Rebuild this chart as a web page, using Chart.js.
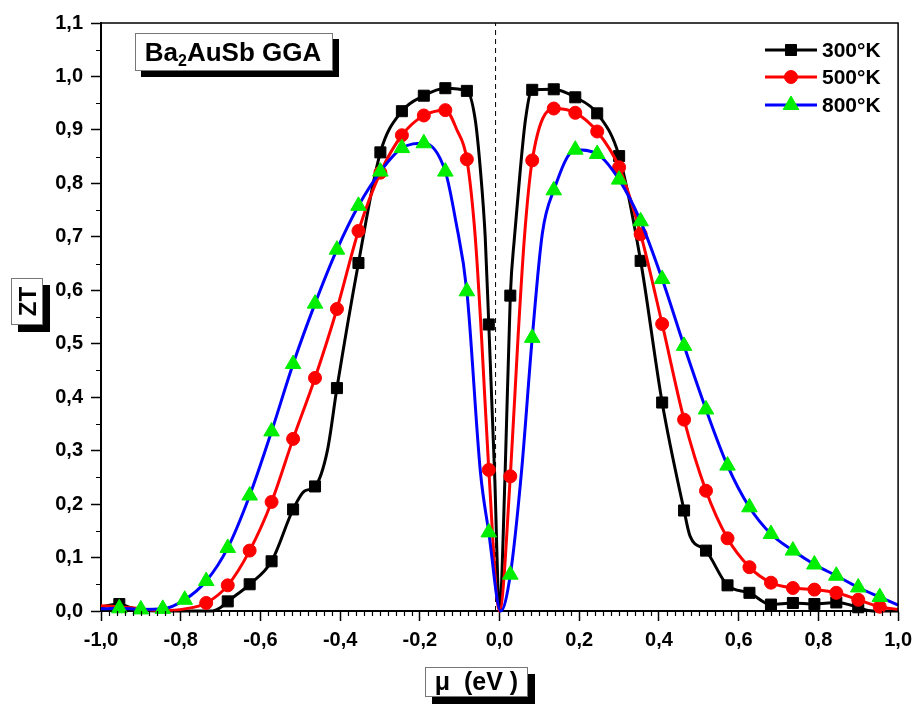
<!DOCTYPE html>
<html><head><meta charset="utf-8">
<script src="https://cdn.jsdelivr.net/npm/chart.js@4"></script>
<style>html,body{margin:0;padding:0;background:#fff}</style>
</head><body>
<canvas id="c" width="919" height="704"></canvas>
<script>
// ---- data ----
const seriesLabels = ['300°K', '500°K', '800°K'];
const muMark = [-0.954,-0.9,-0.845,-0.79,-0.736,-0.682,-0.627,-0.572,-0.518,-0.463,-0.408,-0.354,-0.299,-0.245,-0.19,-0.136,-0.082,-0.027,
                0.027,0.082,0.136,0.19,0.245,0.3,0.354,0.408,0.463,0.518,0.572,0.627,0.681,0.736,0.79,0.845,0.9,0.954];
const zt300Mark = [0.013,null,null,null,null,0.018,0.05,0.093,0.19,0.233,0.417,0.651,0.858,0.935,0.964,0.978,0.973,0.536,
                   0.59,0.975,0.976,0.961,0.931,0.851,0.655,0.39,0.188,0.113,0.048,0.034,0.012,0.015,0.013,0.016,0.007,null];
const zt500Mark = [null,null,null,null,0.015,0.048,0.113,0.204,0.322,0.436,0.565,0.711,0.82,0.89,0.927,0.937,0.845,0.264,
                   0.252,0.843,0.94,0.932,0.897,0.83,0.705,0.537,0.358,0.225,0.136,0.082,0.053,0.043,0.04,0.034,0.021,0.008];
const zt800Mark = [0.005,0.003,0.004,0.021,0.056,0.118,0.216,0.336,0.462,0.575,0.676,0.758,0.822,0.866,0.875,0.822,0.598,0.147,
                   0.068,0.511,0.787,0.863,0.855,0.807,0.729,0.621,0.496,0.377,0.272,0.194,0.144,0.113,0.087,0.066,0.044,0.026];
// curve points between the markers
const mu300Extra = [-1.0,-0.925,-0.9,-0.845,-0.79,-0.736,-0.72,-0.703,-0.49,-0.432,-0.061,-0.048,-0.036,-0.0125,0.0,0.014,0.0375,0.052,0.065,0.478,0.925,0.954,1.0];
const zt300Extra = [0.008,0.006,0.002,0.0,0.0,0.0,0.0,0.005,0.224,0.30,0.919,0.825,0.70,0.259,0.0,0.259,0.70,0.825,0.919,0.14,0.001,0.0,0.0];
const mu500Extra = [-1.0,-0.954,-0.9,-0.845,-0.79,-0.107,-0.061,-0.045,0.0,0.046,0.0625,1.0];
const zt500Extra = [0.01,0.008,0.004,0.001,0.004,0.9,0.70,0.51,0.0,0.507,0.70,0.003];
const mu800Extra = [-1.0,-0.11,-0.048,0.003,0.055,0.1075,1.0];
const zt800Extra = [0.004,0.73,0.26,0.0,0.26,0.707,0.011];
const fermiMu = -0.01;
const xTickValues = [-1.0,-0.8,-0.6,-0.4,-0.2,0.0,0.2,0.4,0.6,0.8,1.0];
const xTickLabels = ['-1,0','-0,8','-0,6','-0,4','-0,2','0,0','0,2','0,4','0,6','0,8','1,0'];
const yTickValues = [0,0.1,0.2,0.3,0.4,0.5,0.6,0.7,0.8,0.9,1.0,1.1];
const yTickLabels = ['0,0','0,1','0,2','0,3','0,4','0,5','0,6','0,7','0,8','0,9','1,0','1,1'];

function build(markY, exX, exY){
  const pts=[];
  muMark.forEach((x,i)=>{ if(markY[i]!==null) pts.push({x:x,y:markY[i],m:true}); });
  exX.forEach((x,i)=>pts.push({x:x,y:exY[i],m:false}));
  pts.sort((a,b)=>a.x-b.x);
  return pts;
}
const FONT = "'Liberation Sans', Arial, sans-serif";
const styles = [
  {color:'#000000', mcolor:'#000000', shape:'rect', r:7.8},
  {color:'#ff0000', mcolor:'#ff0000', shape:'circle', r:6.5},
  {color:'#0000ff', mcolor:'#00ee00', shape:'triangle', r:9}
];
const dataSets = [build(zt300Mark,mu300Extra,zt300Extra), build(zt500Mark,mu500Extra,zt500Extra), build(zt800Mark,mu800Extra,zt800Extra)];
const datasets = dataSets.map((d,i)=>({
  label: seriesLabels[i], data: d,
  borderColor: styles[i].color, borderWidth: 3,
  pointStyle: styles[i].shape,
  pointRadius: c => (c.raw && c.raw.m) ? styles[i].r : 0,
  pointHoverRadius: c => (c.raw && c.raw.m) ? styles[i].r : 0,
  pointBackgroundColor: styles[i].mcolor, pointBorderColor: styles[i].mcolor, pointBorderWidth: 1,
  cubicInterpolationMode: 'monotone', order: 3-i, clip: false, fill:false
}));
datasets.push({label:'fermi', data:[{x:fermiMu,y:0},{x:fermiMu,y:1.1}], borderColor:'#000', borderWidth:1,
  borderDash:[5,4], pointRadius:0, order:10, fill:false});

function drawMarker(ctx, s, x, y){
  ctx.save(); ctx.fillStyle=s.mcolor; ctx.strokeStyle=s.mcolor; ctx.lineWidth=1;
  if (Chart.helpers && Chart.helpers.drawPoint) {
    Chart.helpers.drawPoint(ctx, {pointStyle:s.shape, radius:s.r, rotation:0, borderWidth:1}, x, y);
  }
  ctx.restore();
}
function shadowBox(ctx,x,y,w,h,off){
  ctx.fillStyle='#000'; ctx.fillRect(x+off,y+off,w,h);
  ctx.fillStyle='#fff'; ctx.fillRect(x,y,w,h);
  ctx.strokeStyle='#777'; ctx.lineWidth=1; ctx.strokeRect(x+0.5,y+0.5,w-1,h-1);
}
const decor = {
  id:'decor',
  afterDraw(chart){
    const ctx=chart.ctx, a=chart.chartArea, xs=chart.scales.x, ys=chart.scales.y;
    ctx.save();
    // frame
    ctx.strokeStyle='#000'; ctx.lineWidth=1.5;
    ctx.beginPath(); ctx.moveTo(a.left,a.top); ctx.lineTo(a.right,a.top); ctx.lineTo(a.right,a.bottom); ctx.stroke();
    // minor ticks
    ctx.lineWidth=1.2;
    ctx.beginPath();
    for(let k=-50;k<=50;k++){ if(k%10===0) continue; const px=Math.round(xs.getPixelForValue(k*0.02))+0.5; ctx.moveTo(px,a.bottom); ctx.lineTo(px,a.bottom+5); }
    for(let k=1;k<22;k+=2){ const py=Math.round(ys.getPixelForValue(k*0.05))+0.5; ctx.moveTo(a.left-5,py); ctx.lineTo(a.left,py); }
    ctx.stroke();
    // legend
    ctx.textBaseline='middle'; ctx.textAlign='left';
    ctx.font="bold 21px "+FONT;
    const rows=[50,77,105];
    styles.forEach((s,i)=>{
      ctx.strokeStyle=s.color; ctx.lineWidth=3;
      ctx.beginPath(); ctx.moveTo(765,rows[i]); ctx.lineTo(817,rows[i]); ctx.stroke();
      drawMarker(ctx,s,791,rows[i]);
      ctx.fillStyle='#000'; ctx.fillText(seriesLabels[i],822,rows[i]+1);
    });
    // title box
    shadowBox(ctx,135,33,198,38,6);
    ctx.fillStyle='#000'; ctx.textBaseline='alphabetic';
    const f1="bold 26px "+FONT, f2="bold 16px "+FONT;
    ctx.font=f1; const wBa=ctx.measureText('Ba').width, wRest=ctx.measureText('AuSb GGA').width;
    ctx.font=f2; const w2=ctx.measureText('2').width;
    let tx=233-(wBa+w2+wRest)/2, base=61;
    ctx.font=f1; ctx.fillText('Ba',tx,base); tx+=wBa;
    ctx.font=f2; ctx.fillText('2',tx,base+5); tx+=w2;
    ctx.font=f1; ctx.fillText('AuSb GGA',tx,base);
    // ZT box
    shadowBox(ctx,11,278,32,47,7);
    ctx.save(); ctx.translate(28,301.5); ctx.rotate(-Math.PI/2);
    ctx.font="bold 24px "+FONT; ctx.textAlign='center'; ctx.textBaseline='middle'; ctx.fillStyle='#000';
    ctx.fillText('ZT',0,1); ctx.restore();
    // mu box
    shadowBox(ctx,425,667,103,30,7);
    ctx.font="bold 25px "+FONT; ctx.textAlign='center'; ctx.textBaseline='middle'; ctx.fillStyle='#000';
    ctx.fillText('\u03bc  (eV )',476.5,683);
    ctx.restore();
  }
};
const tickFont = {family: FONT, size: 20, weight: 'bold'};
new Chart(document.getElementById('c'), {
  type:'line',
  data:{datasets: datasets},
  options:{
    responsive:false, animation:false, devicePixelRatio:1,
    layout:{padding:{top:23,right:18,left:0,bottom:0}},
    plugins:{legend:{display:false}, tooltip:{enabled:false}},
    scales:{
      x:{type:'linear', min:-1, max:1,
        afterFit(s){ s.height=93; },
        afterBuildTicks(s){ s.ticks = xTickValues.map(v=>({value:v})); },
        ticks:{callback:(v,i)=>xTickLabels[i], color:'#000', font:tickFont, padding:7, maxRotation:0, autoSkip:false},
        grid:{drawOnChartArea:false, tickLength:10, tickColor:'#000', tickWidth:1.5},
        border:{color:'#000', width:2}},
      y:{type:'linear', min:0, max:1.1,
        afterFit(s){ s.width=101; },
        afterBuildTicks(s){ s.ticks = yTickValues.map(v=>({value:v})); },
        ticks:{callback:(v,i)=>yTickLabels[i], color:'#000', font:tickFont, padding:8, autoSkip:false},
        grid:{drawOnChartArea:false, tickLength:10, tickColor:'#000', tickWidth:1.5},
        border:{color:'#000', width:2}}
    }
  },
  plugins:[decor]
});
</script>
</body></html>
